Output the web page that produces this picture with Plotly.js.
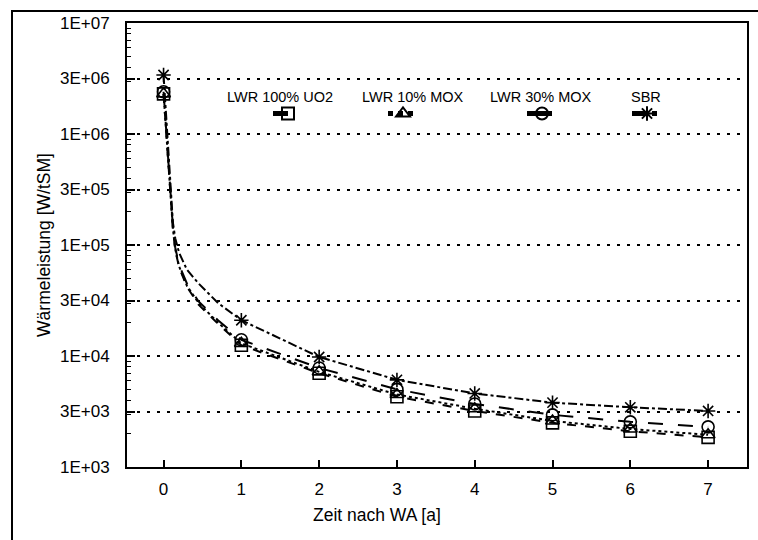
<!DOCTYPE html>
<html>
<head>
<meta charset="utf-8">
<script src="https://cdn.plot.ly/plotly-3.0.1.min.js"></script>
<style>html,body{margin:0;padding:0;background:#fff;}#chart{width:758px;height:540px;}</style>
</head>
<body>
<div id="chart"></div>
<script>
// Zeit nach WA [a]
const zeit = [0, 0.12, 0.15, 0.2, 0.3, 0.45, 0.7, 1, 2, 3, 4, 5, 6, 7];
// Wärmeleistung [W/tSM]
const lwrUO2   = [2.3e6, 1.4e5, 9.0e4, 6.3e4, 4.2e4, 2.9e4, 1.95e4, 1.25e4, 7.0e3, 4.3e3, 3.2e3, 2.5e3, 2.1e3, 1.85e3];
const lwr10MOX = [2.3e6, 1.4e5, 9.2e4, 6.4e4, 4.3e4, 3.0e4, 2.0e4, 1.3e4, 7.2e3, 4.5e3, 3.35e3, 2.6e3, 2.2e3, 1.95e3];
const lwr30MOX = [2.4e6, 1.45e5, 9.5e4, 6.6e4, 4.5e4, 3.1e4, 2.1e4, 1.4e4, 7.8e3, 5.0e3, 3.7e3, 2.95e3, 2.55e3, 2.3e3];
const sbr      = [3.4e6, 1.6e5, 1.15e5, 8.5e4, 6.0e4, 4.5e4, 3.0e4, 2.1e4, 9.8e3, 6.1e3, 4.6e3, 3.8e3, 3.45e3, 3.2e3];

const seriesNames = ['LWR 100% UO2', 'LWR 10% MOX', 'LWR 30% MOX', 'SBR'];
const yTickVals = [1e3, 3162.28, 1e4, 31622.8, 1e5, 316228, 1e6, 3162278, 1e7];
const yTickText = ['1E+03', '3E+03', '1E+04', '3E+04', '1E+05', '3E+05', '1E+06', '3E+06', '1E+07'];
const xTickVals = [0, 1, 2, 3, 4, 5, 6, 7];
const xTitle = 'Zeit nach WA [a]';
const yTitle = 'Wärmeleistung [W/tSM]';

const FONT = 'Liberation Sans, Arial, sans-serif';

const values = [lwrUO2, lwr10MOX, lwr30MOX, sbr];
const symbols = ['square-open', 'triangle-up-open', 'circle-open', 'asterisk-open'];
const dashes = ['dash', 'dot', 'longdash', 'dashdot'];
const legendIds = ['legend', 'legend2', 'legend3', 'legend4'];

// markers only at whole years
const markerColors = zeit.map(t => Number.isInteger(t) ? 'black' : 'rgba(0,0,0,0)');

// log minor ticks 2..9 x 10^n
const minorVals = [];
for (let e = 3; e < 7; e++) for (let d = 2; d <= 9; d++) minorVals.push(d * Math.pow(10, e));

const traces = values.map((v, i) => ({
  x: zeit, y: v, name: '\u00a0', type: 'scatter', mode: 'lines+markers',
  legend: legendIds[i],
  line: {color: 'black', width: 2, dash: dashes[i]},
  marker: {symbol: symbols[i], size: 12, color: markerColors, line: {width: 1.6}},
  hovertext: seriesNames[i]
}));

const pw = 620, ph = 444, ml = 127, mt = 23;
const px = X => (X - ml) / pw;
const py = Y => 1 - (Y - mt) / ph;

const labelX = [280, 413, 541, 646];
const symbolX = [288, 403, 542, 647];
const annotations = seriesNames.map((n, i) => ({
  text: n, xref: 'paper', yref: 'paper', x: px(labelX[i]), y: py(97),
  showarrow: false, font: {family: FONT, size: 14.5, color: 'black'}, xanchor: 'center', yanchor: 'middle'
}));
annotations.push({
  text: xTitle, xref: 'paper', yref: 'paper', x: px(377), y: py(515),
  showarrow: false, font: {family: FONT, size: 17.5, color: 'black'}, xanchor: 'center', yanchor: 'middle'
});

const layout = {
  width: 758, height: 540,
  margin: {l: 127, r: 11, t: 23, b: 73},
  paper_bgcolor: 'white', plot_bgcolor: 'white',
  showlegend: true,
  xaxis: {
    range: [-0.47, 7.5], tickvals: xTickVals, ticks: 'inside', ticklen: 7, tickwidth: 2, tickcolor: 'black',
    showline: true, linecolor: 'black', linewidth: 2, mirror: true, showgrid: false, zeroline: false,
    tickfont: {family: FONT, size: 17, color: 'black'}, ticklabelstandoff: 6
  },
  yaxis: {
    type: 'log', range: [3, 7], tickmode: 'array', tickvals: yTickVals, ticktext: yTickText,
    ticks: 'inside', ticklen: 8, tickwidth: 2, tickcolor: 'black',
    showline: true, linecolor: 'black', linewidth: 2, mirror: true, zeroline: false,
    showgrid: true, gridcolor: 'black', gridwidth: 2, griddash: '3px,7px',
    minor: {tickmode: 'array', tickvals: minorVals, ticks: 'inside', ticklen: 4, tickcolor: 'black', tickwidth: 1, showgrid: false},
    tickfont: {family: FONT, size: 17, color: 'black'}, ticklabelstandoff: 12,
    title: {text: yTitle, font: {family: FONT, size: 17.5, color: 'black'}, standoff: 5}
  },
  annotations: annotations,
  shapes: [{type: 'rect', xref: 'paper', yref: 'paper', x0: px(12), x1: px(780), y0: py(560), y1: py(11),
    line: {color: 'black', width: 2}, fillcolor: 'rgba(0,0,0,0)', layer: 'below'}]
};

legendIds.forEach((id, i) => {
  layout[id] = {orientation: 'h', x: px(symbolX[i] - 20), xanchor: 'left', y: py(99), yanchor: 'top',
    bgcolor: 'rgba(0,0,0,0)', font: {family: FONT, size: 12, color: 'black'},
    itemsizing: 'constant', itemwidth: 30};
});

Plotly.newPlot('chart', traces, layout, {displayModeBar: false, staticPlot: true});
</script>
</body>
</html>
